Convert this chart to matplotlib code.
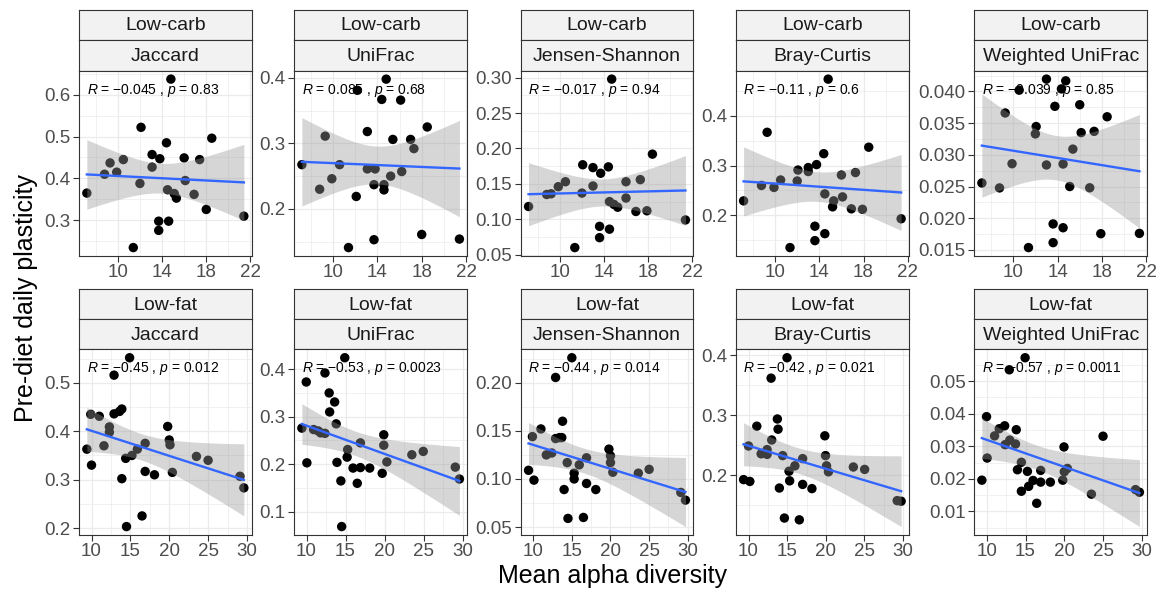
import numpy as np
import matplotlib
matplotlib.use("Agg")
import matplotlib.pyplot as plt
from matplotlib.ticker import MultipleLocator

plt.rcParams['font.family'] = ['Liberation Sans', 'DejaVu Sans']
plt.rcParams['mathtext.fontset'] = 'custom'
plt.rcParams['mathtext.rm'] = 'Liberation Sans'
plt.rcParams['mathtext.it'] = 'Liberation Sans:italic'

# ---- data ----
diets = ["Low-carb", "Low-fat"]
metrics = ["Jaccard", "UniFrac", "Jensen-Shannon", "Bray-Curtis", "Weighted UniFrac"]

lc_jac_x = [7.2, 8.8, 9.3, 9.9, 10.5, 11.4, 12.1, 12.0, 13.1, 13.1, 13.8, 13.7, 13.7, 14.4, 14.5, 14.6,
            14.8, 15.1, 15.3, 16.0, 16.1, 16.9, 17.4, 18.0, 18.5, 21.4]
lc_jac_y = [0.365, 0.41, 0.437, 0.415, 0.445, 0.235, 0.522, 0.388, 0.457, 0.427, 0.447, 0.298, 0.276,
            0.485, 0.373, 0.298, 0.637, 0.364, 0.353, 0.449, 0.395, 0.362, 0.445, 0.326, 0.496, 0.31]

lc_uni_x = [7.2, 8.8, 9.3, 9.9, 10.6, 11.4, 12.1, 12.2, 13.1, 13.1, 13.8, 13.7, 13.7, 14.4, 14.6, 14.6,
            14.8, 15.2, 15.4, 16.1, 16.2, 17.0, 17.3, 18.0, 18.5, 21.4]
lc_uni_y = [0.2675, 0.23, 0.311, 0.246, 0.2675, 0.141, 0.219, 0.381, 0.318, 0.261, 0.261, 0.237, 0.153,
            0.367, 0.237, 0.229, 0.398, 0.250, 0.306, 0.366, 0.257, 0.306, 0.292, 0.161, 0.325, 0.154]

lc_js_x = [7.15, 8.8, 9.2, 9.85, 10.5, 11.35, 12.07, 12.0, 13.0, 13.0, 13.7, 13.6, 13.6, 14.4, 14.5, 14.5,
           14.7, 14.9, 15.25, 16.0, 16.0, 16.9, 17.3, 17.9, 18.4, 21.4]
lc_js_y = [0.118, 0.135, 0.136, 0.146, 0.153, 0.060, 0.177, 0.137, 0.173, 0.147, 0.165, 0.090, 0.074,
           0.174, 0.125, 0.086, 0.298, 0.121, 0.117, 0.153, 0.130, 0.111, 0.156, 0.112, 0.192, 0.099]

lc_bc_x = [7.15, 8.77, 9.28, 9.9, 10.5, 11.35, 12.07, 12.0, 13.0, 13.0, 13.75, 13.6, 13.6, 14.4, 14.5, 14.5,
           14.8, 15.2, 15.3, 16.0, 16.1, 16.9, 17.27, 17.9, 18.47, 21.4]
lc_bc_y = [0.229, 0.26, 0.367, 0.256, 0.271, 0.135, 0.291, 0.269, 0.296, 0.288, 0.302, 0.178, 0.149,
           0.324, 0.243, 0.163, 0.474, 0.217, 0.229, 0.281, 0.237, 0.213, 0.286, 0.212, 0.337, 0.193]

lc_wu_x = [7.18, 8.77, 9.28, 9.9, 10.54, 11.38, 12.07, 12.0, 13.0, 13.0, 13.76, 13.6, 13.6, 14.35, 14.5,
           14.5, 14.74, 15.1, 15.38, 16.0, 16.13, 16.9, 17.3, 17.9, 18.47, 21.38]
lc_wu_y = [0.02556, 0.02478, 0.0366, 0.0286, 0.0402, 0.01537, 0.03446, 0.0333, 0.04194, 0.0284, 0.03765,
           0.0191, 0.01615, 0.0404, 0.02855, 0.0185, 0.04167, 0.0250, 0.0309, 0.0379, 0.0335, 0.0248,
           0.0337, 0.01756, 0.0360, 0.01761]

lf_jac_x = [9.4, 9.9, 10.0, 11.0, 11.6, 12.3, 12.3, 12.9, 12.9, 13.6, 13.9, 13.9, 14.4, 14.5, 14.9, 15.2,
            15.9, 16.5, 16.9, 16.9, 18.1, 19.8, 20.0, 20.1, 20.4, 23.5, 25.0, 29.1, 29.6]
lf_jac_y = [0.363, 0.435, 0.330, 0.431, 0.370, 0.409, 0.398, 0.516, 0.436, 0.441, 0.446, 0.302, 0.344,
            0.203, 0.552, 0.350, 0.363, 0.225, 0.317, 0.375, 0.310, 0.410, 0.382, 0.372, 0.315, 0.348,
            0.340, 0.307, 0.283]

lf_uni_x = [9.4, 9.96, 10.04, 10.9, 11.5, 11.8, 12.36, 12.36, 12.9, 12.96, 13.6, 13.8, 13.9, 14.4, 14.5,
            14.9, 15.2, 15.27, 15.96, 16.5, 16.9, 16.9, 18.1, 19.7, 19.9, 19.9, 20.3, 23.5, 24.96, 29.07, 29.6]
lf_uni_y = [0.276, 0.373, 0.203, 0.273, 0.270, 0.266, 0.392, 0.265, 0.350, 0.310, 0.331, 0.285, 0.204,
            0.165, 0.069, 0.424, 0.215, 0.231, 0.192, 0.160, 0.193, 0.245, 0.192, 0.181, 0.262, 0.240,
            0.205, 0.220, 0.227, 0.194, 0.169]

lf_js_x = [9.4, 9.9, 10.1, 11.0, 11.7, 12.4, 12.9, 12.9, 13.4, 13.8, 13.7, 14.0, 14.4, 14.5, 15.0, 15.3,
           15.3, 15.96, 16.5, 16.9, 16.9, 18.1, 19.8, 20.0, 20.0, 20.3, 23.6, 25.0, 29.1, 29.7]
lf_js_y = [0.109, 0.144, 0.0988, 0.152, 0.125, 0.127, 0.2055, 0.142, 0.143, 0.160, 0.143, 0.089, 0.117,
           0.059, 0.226, 0.106, 0.100, 0.1147, 0.060, 0.0953, 0.122, 0.089, 0.131, 0.124, 0.117, 0.107,
           0.106, 0.110, 0.086, 0.078]

lf_bc_x = [9.36, 10.0, 10.17, 11.07, 11.63, 12.4, 12.4, 12.92, 13.0, 13.73, 13.82, 13.99, 14.42, 14.64,
           14.98, 15.24, 15.32, 16.0, 16.57, 17.0, 17.0, 18.2, 19.87, 19.96, 20.09, 20.34, 23.56, 25.02,
           29.23, 29.74]
lf_bc_y = [0.193, 0.249, 0.190, 0.282, 0.236, 0.243, 0.235, 0.362, 0.259, 0.294, 0.277, 0.179, 0.233,
           0.129, 0.396, 0.207, 0.191, 0.216, 0.126, 0.185, 0.228, 0.178, 0.266, 0.233, 0.216, 0.206,
           0.214, 0.210, 0.158, 0.157]

lf_wu_x = [9.36, 9.96, 10.04, 11.0, 11.6, 12.3, 12.36, 12.9, 12.96, 13.7, 13.8, 13.95, 14.46, 14.46,
           14.94, 15.24, 15.4, 15.97, 16.44, 16.95, 16.95, 18.2, 19.8, 19.96, 20.0, 20.4, 23.5, 25.0,
           29.2, 29.7]
lf_wu_y = [0.0196, 0.0391, 0.0264, 0.0332, 0.0354, 0.0363, 0.0305, 0.0535, 0.0319, 0.0307, 0.0351,
           0.0228, 0.0251, 0.0162, 0.0572, 0.0223, 0.0177, 0.0195, 0.0125, 0.0226, 0.0190, 0.0190,
           0.0196, 0.0298, 0.0222, 0.0232, 0.0153, 0.0331, 0.0167, 0.0159]

stat_labels = [
    ["−0.045", "0.83"], ["0.085", "0.68"], ["−0.017", "0.94"], ["−0.11", "0.6"], ["−0.039", "0.85"],
    ["−0.45", "0.012"], ["−0.53", "0.0023"], ["−0.44", "0.014"], ["−0.42", "0.021"], ["−0.57", "0.0011"],
]

x_ticks_top = [10, 14, 18, 22]
x_ticks_bottom = [10, 15, 20, 25, 30]
y_tick_labels = [
    ["0.3", "0.4", "0.5", "0.6"],
    ["0.2", "0.3", "0.4"],
    ["0.05", "0.10", "0.15", "0.20", "0.25", "0.30"],
    ["0.2", "0.3", "0.4"],
    ["0.015", "0.020", "0.025", "0.030", "0.035", "0.040"],
    ["0.2", "0.3", "0.4", "0.5"],
    ["0.1", "0.2", "0.3", "0.4"],
    ["0.05", "0.10", "0.15", "0.20"],
    ["0.2", "0.3", "0.4"],
    ["0.01", "0.02", "0.03", "0.04", "0.05"],
]

xs = [lc_jac_x, lc_uni_x, lc_js_x, lc_bc_x, lc_wu_x, lf_jac_x, lf_uni_x, lf_js_x, lf_bc_x, lf_wu_x]
ys = [lc_jac_y, lc_uni_y, lc_js_y, lc_bc_y, lc_wu_y, lf_jac_y, lf_uni_y, lf_js_y, lf_bc_y, lf_wu_y]

# ---- layout (pixels) ----
W, H = 1158, 592
cols = [(79, 251.7), (294, 467.3), (520.7, 693.3), (735.7, 909), (974, 1147.3)]
rows = [(10, 40, 70.7, 256), (289.3, 319, 349.3, 535)]

fig = plt.figure(figsize=(W / 100, H / 100), dpi=100)


def px_axes(x0, x1, y0, y1):
    return fig.add_axes([x0 / W, 1 - y1 / H, (x1 - x0) / W, (y1 - y0) / H])


def t975(df):
    z = 1.959964
    return z + (z ** 3 + z) / (4 * df) + (5 * z ** 5 + 16 * z ** 3 + 3 * z) / (96 * df ** 2)


def strip(x0, x1, y0, y1, text):
    s = px_axes(x0, x1, y0, y1)
    s.set_facecolor('#F2F2F2')
    s.set_xticks([])
    s.set_yticks([])
    for sp in s.spines.values():
        sp.set_color('#333333')
        sp.set_linewidth(0.8)
    s.text(0.5, 0.47, text, ha='center', va='center', fontsize=14, color='#1A1A1A',
           transform=s.transAxes)


for i in range(10):
    r, c = divmod(i, 5)
    x0, x1 = cols[c]
    t1, t2, t3, yb = rows[r]
    strip(x0, x1, t1, t2, diets[r])
    strip(x0, x1, t2, t3, metrics[c])
    ax = px_axes(x0, x1, t3, yb)

    x = np.array(xs[i])
    y = np.array(ys[i])
    n = len(x)
    b, a = np.polyfit(x, y, 1)
    resid = y - (a + b * x)
    s = np.sqrt(np.sum(resid ** 2) / (n - 2))
    xm = x.mean()
    sxx = np.sum((x - xm) ** 2)
    xl = np.linspace(x.min(), x.max(), 80)
    yl = a + b * xl
    se = s * np.sqrt(1 / n + (xl - xm) ** 2 / sxx)
    tq = t975(n - 2)
    lo, hi = yl - tq * se, yl + tq * se

    ax.scatter(x, y, s=46, color='black', edgecolors='none', zorder=3)
    ax.fill_between(xl, lo, hi, color='#999999', alpha=0.4, linewidth=0, zorder=4)
    ax.plot(xl, yl, color='#3366FF', lw=1.7, zorder=5)

    # ggplot-like 5% expansion
    xmin, xmax = x.min(), x.max()
    ymin, ymax = min(y.min(), lo.min()), max(y.max(), hi.max())
    ax.set_xlim(xmin - 0.05 * (xmax - xmin), xmax + 0.05 * (xmax - xmin))
    ax.set_ylim(ymin - 0.05 * (ymax - ymin), ymax + 0.05 * (ymax - ymin))

    xt = x_ticks_top if r == 0 else x_ticks_bottom
    yt = [float(v) for v in y_tick_labels[i]]
    ax.set_xticks(xt)
    ax.set_xticklabels([str(v) for v in xt])
    ax.set_yticks(yt)
    ax.set_yticklabels(y_tick_labels[i])
    ax.xaxis.set_minor_locator(MultipleLocator((xt[1] - xt[0]) / 2))
    ax.yaxis.set_minor_locator(MultipleLocator((yt[1] - yt[0]) / 2))
    ax.grid(which='major', color='#EBEBEB', lw=0.9, zorder=0)
    ax.grid(which='minor', color='#EBEBEB', lw=0.5, zorder=0)
    ax.set_axisbelow(True)
    ax.tick_params(which='major', length=4, width=0.8, color='#333333', labelsize=13.5,
                   labelcolor='#4D4D4D', pad=2)
    ax.tick_params(which='minor', length=0)
    for sp in ax.spines.values():
        sp.set_color('#333333')
        sp.set_linewidth(0.8)

    rv, pv = stat_labels[i]
    ax.text(0.045, 0.895, r"$R$ = " + rv + r" , $p$ = " + pv, transform=ax.transAxes,
            ha='left', va='center', fontsize=10, color='black', zorder=6)

fig.text(613 / W, 1 - 583 / H, "Mean alpha diversity", ha='center', va='baseline', fontsize=18)
fig.text(26 / W, 1 - 298 / H, "Pre-diet daily plasticity", ha='center', va='center',
         rotation=90, fontsize=18)

fig.savefig("out.png", dpi=100)
